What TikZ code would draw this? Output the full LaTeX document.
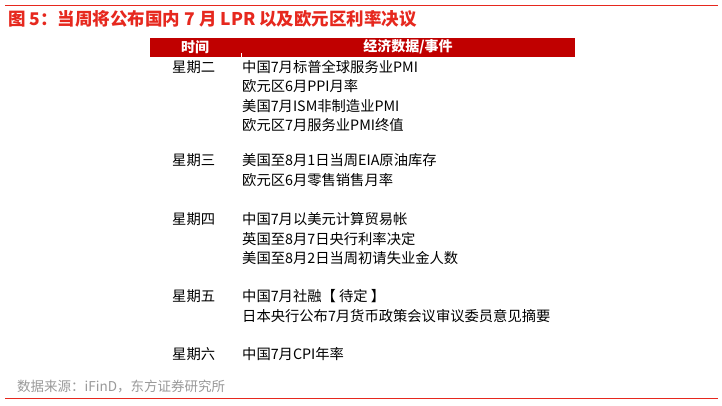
\documentclass[tikz,border=0pt]{standalone}
\usepackage{fontspec}
\setmainfont{Noto Sans CJK SC}
\usetikzlibrary{positioning}
\definecolor{darkred}{RGB}{192,0,0}
\definecolor{titlered}{RGB}{230,40,30}
\tikzset{
  day/.style={anchor=west, font=\fontsize{14.3}{14}\selectfont, inner sep=0pt},
  item/.style={anchor=west, font=\fontsize{14.3}{14}\selectfont, inner sep=0pt, align=left},
  head/.style={font=\fontsize{14}{14}\selectfont\bfseries, text=white, inner sep=0pt}
}
\begin{document}
\begin{tikzpicture}[x=1pt,y=-1pt]
  \useasboundingbox (0,0) rectangle (722,405);

  % Rules and title
  \draw[titlered, line width=1pt] (5,5) -- (718,5);
  \draw[titlered, line width=1pt] (5,398) -- (718,398);
  \node[anchor=west, inner sep=0pt, text=titlered, font=\fontsize{17.5}{17}\selectfont\bfseries] (title) at (8,19) {图 5：当周将公布国内 7 月 LPR 以及欧元区利率决议};

  % Header bar
  \fill[darkred] (150,38) rectangle (575,57);
  \draw[white, line width=0.6pt] (241,53) -- (241,57);
  \node[head] (time) at (195,47) {时间};
  \node[head] (event) at (408,47) {经济数据/事件};

  % Rows
  \node[day] (tue) at (172,67) {星期二};
  \node[item] (tuei) at (242,96) {中国7月标普全球服务业PMI\\[5.5pt]欧元区6月PPI月率\\[5.5pt]美国7月ISM非制造业PMI\\[5.5pt]欧元区7月服务业PMI终值};
  \node[day] (wed) at (172,160) {星期三};
  \node[item] (wedi) at (242,170) {美国至8月1日当周EIA原油库存\\[5.5pt]欧元区6月零售销售月率};
  \node[day] (thu) at (172,219) {星期四};
  \node[item] (thui) at (242,239) {中国7月以美元计算贸易帐\\[5.5pt]英国至8月7日央行利率决定\\[5.5pt]美国至8月2日当周初请失业金人数};
  \node[day] (fri) at (172,296) {星期五};
  \node[item] (frii) at (242,306) {中国7月社融【 待定 】\\[5.5pt]日本央行公布7月货币政策会议审议委员意见摘要};
  \node[day] (sat) at (172,354) {星期六};
  \node[item] (sati) at (242,354) {中国7月CPI年率};

  % Source
  \node[anchor=west, inner sep=0pt, text=gray!80, font=\fontsize{13.5}{13}\selectfont] (src) at (17,386) {数据来源：iFinD，东方证券研究所};
\end{tikzpicture}
\end{document}
